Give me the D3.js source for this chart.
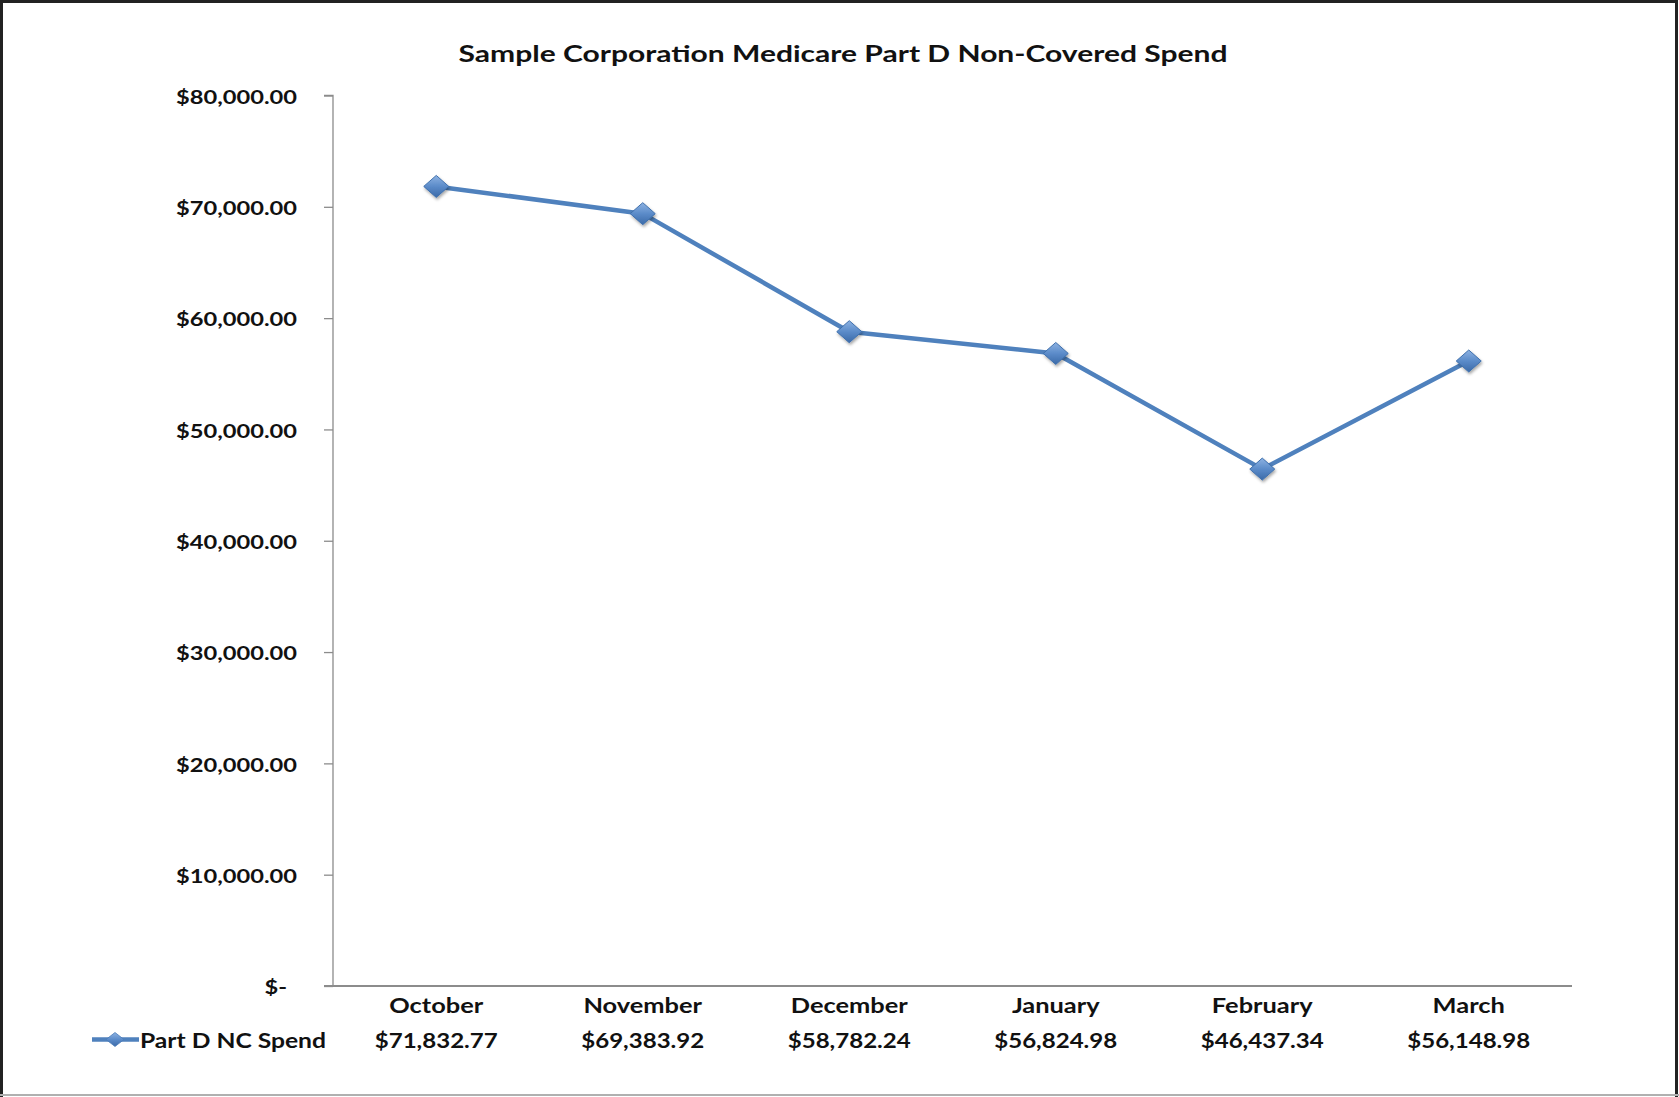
<!DOCTYPE html>
<html><head><meta charset="utf-8">
<script src="https://cdn.jsdelivr.net/npm/d3@7"></script>
<style>
html,body{margin:0;padding:0;background:#fff;}
svg{display:block;}
text{font-family:"Lato","Open Sans",sans-serif;font-weight:700;fill:#111;}
</style></head>
<body>
<svg id="chart" width="1679" height="1097"></svg>
<script>
const title = "Sample Corporation Medicare Part D Non-Covered Spend";
const seriesName = "Part D NC Spend";
const months = ["October","November","December","January","February","March"];
const spend = [71832.77, 69383.92, 58782.24, 56824.98, 46437.34, 56148.98];
const yTicks = [0,10000,20000,30000,40000,50000,60000,70000,80000];

(function(){
const svg = d3.select("#chart");
const W = 1679, H = 1097;
const pL = 333, pR = 1572, pT = 95.5, pB = 986;

// horizontally stretch a group of texts so that a reference member reaches a target width
function stretch(sel, refNode, target){
  const f = target / refNode.getComputedTextLength();
  sel.each(function(){
    const w = this.getComputedTextLength();
    this.setAttribute("textLength", (w*f).toFixed(2));
    this.setAttribute("lengthAdjust","spacingAndGlyphs");
  });
}

// frame
svg.append("rect").attr("x",0).attr("y",0).attr("width",W).attr("height",H).attr("fill","#fff");
svg.append("path").attr("d",`M1.5,${H} L1.5,1.5 L${W-2.5},1.5 L${W-2.5},${H}`)
  .attr("fill","none").attr("stroke","#222").attr("stroke-width",3);
svg.append("line").attr("x1",0).attr("x2",W).attr("y1",H-2).attr("y2",H-2)
  .attr("stroke","#b0b0b0").attr("stroke-width",2);

const defs = svg.append("defs");
const grad = defs.append("linearGradient").attr("id","dg").attr("x1",0).attr("y1",0).attr("x2",0).attr("y2",1);
grad.append("stop").attr("offset","0%").attr("stop-color","#8db2e2");
grad.append("stop").attr("offset","50%").attr("stop-color","#5b8bc9");
grad.append("stop").attr("offset","100%").attr("stop-color","#3b6aa8");
const sh = defs.append("filter").attr("id","sh").attr("x","-50%").attr("y","-50%").attr("width","200%").attr("height","200%");
sh.append("feDropShadow").attr("dx",1).attr("dy",2).attr("stdDeviation",1.5).attr("flood-color","#000").attr("flood-opacity",0.35);

const x = d3.scaleBand().domain(months).range([pL,pR]);
const y = d3.scaleLinear().domain([0,80000]).range([pB,pT]);
const fmt = v => v===0 ? "$-" : "$" + d3.format(",.2f")(v);

// title
svg.append("text").attr("x",843).attr("y",62).attr("text-anchor","middle")
  .attr("font-size",23.5).attr("textLength",769).attr("lengthAdjust","spacingAndGlyphs").text(title);

// y axis
const yAxis = d3.axisLeft(y).tickValues(yTicks).tickFormat(fmt).tickSize(9).tickPadding(27);
const gy = svg.append("g").attr("transform",`translate(${pL},0)`).call(yAxis);
gy.select(".domain").attr("stroke","#8c8c8c").attr("stroke-width",1.3).attr("d",`M-9,${pT}H0V${pB}`);
gy.selectAll(".tick line").attr("stroke","#8c8c8c").attr("stroke-width",1.3);
const yt = gy.selectAll(".tick text").attr("font-size",18.5).attr("font-family","Lato, sans-serif")
  .attr("font-weight",700).attr("fill","#111").attr("dy","0.42em");
stretch(yt, yt.filter(d=>d===80000).node(), 121);
yt.filter(d=>d===0).attr("x",-46);

// x axis line
const xAxis = d3.axisBottom(x).tickSize(0).tickFormat("");
const gx = svg.append("g").attr("transform",`translate(0,${pB})`).call(xAxis);
gx.select(".domain").attr("stroke","#8c8c8c").attr("stroke-width",2)
  .attr("d",`M${pL-9},0H${pR}`);

// data table rows
const cats = svg.append("g").selectAll("text.cat").data(months).join("text")
  .attr("class","cat").attr("x",d=>x(d)+x.bandwidth()/2).attr("y",1013)
  .attr("text-anchor","middle").attr("font-size",20.5).text(d=>d);
stretch(cats, cats.node(), 94);
const vals = svg.append("g").selectAll("text.val").data(spend).join("text")
  .attr("class","val").attr("x",(d,i)=>x(months[i])+x.bandwidth()/2).attr("y",1047.5)
  .attr("text-anchor","middle").attr("font-size",20.5).text(d=>fmt(d));
stretch(vals, vals.node(), 123);

// legend key
const diamond = (w,h) => `M0,${-h/2}L${w/2},0L0,${h/2}L${-w/2},0Z`;
svg.append("line").attr("x1",92).attr("x2",139).attr("y1",1039.5).attr("y2",1039.5)
  .attr("stroke","#4f81bd").attr("stroke-width",4.5);
svg.append("path").attr("d",diamond(18,14)).attr("transform","translate(115,1039.5)")
  .attr("fill","url(#dg)").attr("stroke","#4a7bb7").attr("stroke-width",0.8);
const leg = svg.append("text").attr("x",140).attr("y",1047.5).attr("font-size",20.5).text(seriesName);
stretch(leg, leg.node(), 186);

// line
const line = d3.line().x((d,i)=>x(months[i])+x.bandwidth()/2).y(d=>y(d));
svg.append("path").datum(spend).attr("d",line).attr("fill","none")
  .attr("stroke","#4f81bd").attr("stroke-width",4.5).attr("stroke-linejoin","round");

svg.append("g").selectAll("path.mk").data(spend).join("path")
  .attr("class","mk").attr("d",diamond(25,22))
  .attr("transform",(d,i)=>`translate(${x(months[i])+x.bandwidth()/2},${y(d)})`)
  .attr("fill","url(#dg)").attr("stroke","#3f70ad").attr("stroke-width",1)
  .attr("filter","url(#sh)");
})();
</script>
</body></html>
